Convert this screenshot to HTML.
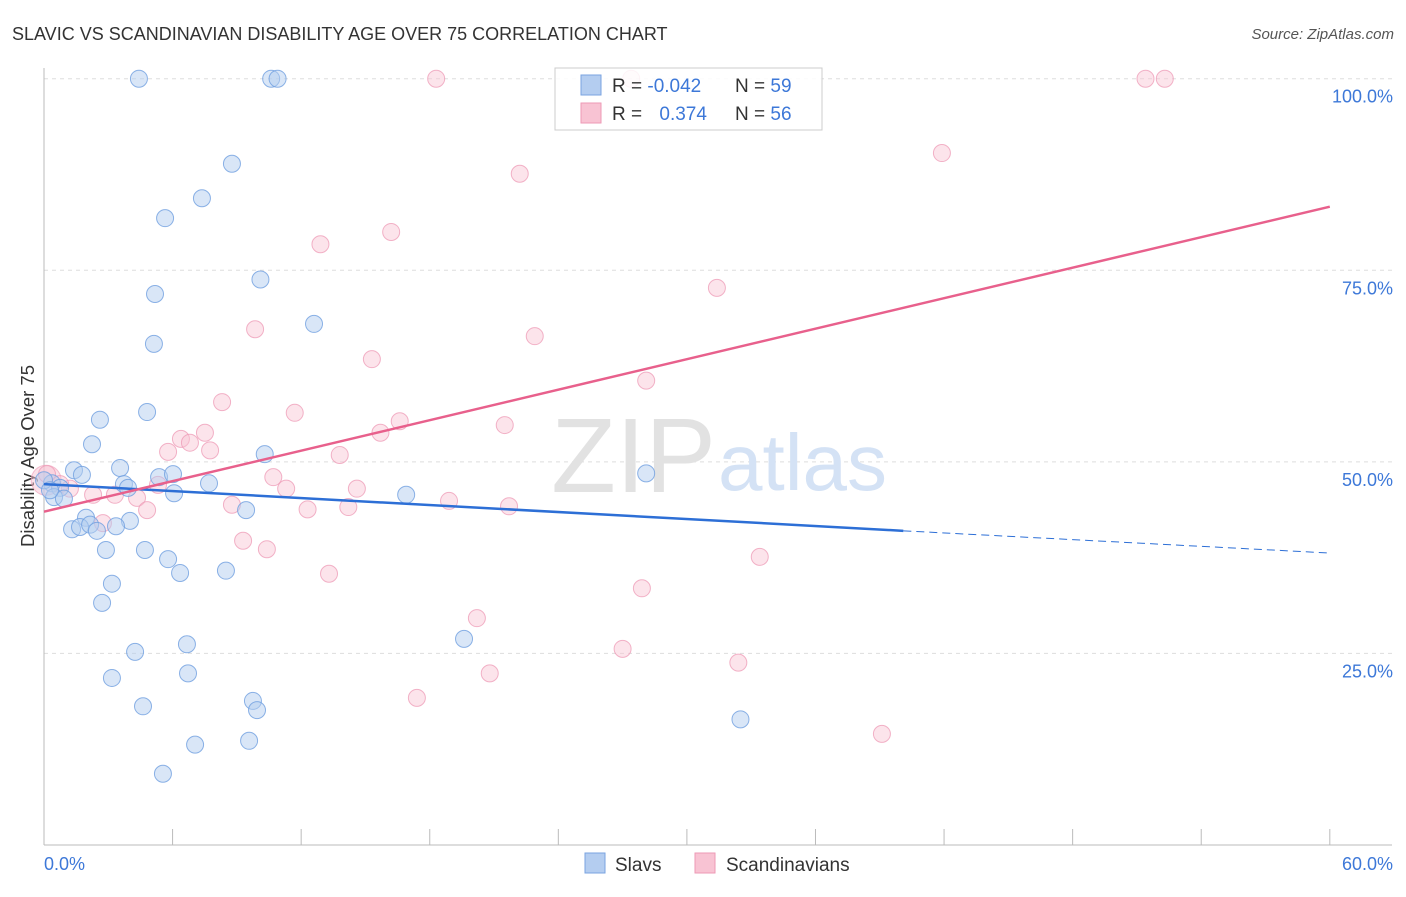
<!DOCTYPE html>
<html><head><meta charset="utf-8"><style>
body{margin:0;background:#fff;font-family:"Liberation Sans",sans-serif;}
svg text{font-family:"Liberation Sans",sans-serif;}
</style></head><body>
<svg id="c" width="1406" height="892" xmlns="http://www.w3.org/2000/svg">
<text x="12" y="40" font-size="18" fill="#333">SLAVIC VS SCANDINAVIAN DISABILITY AGE OVER 75 CORRELATION CHART</text>
<text x="1394" y="39" font-size="15" fill="#555" font-style="italic" text-anchor="end">Source: ZipAtlas.com</text>
<text transform="translate(34,456) rotate(-90)" font-size="18.5" fill="#333" text-anchor="middle">Disability Age Over 75</text>
<g id="grid"></g>
<text x="716" y="492" font-size="106" fill="#e2e2e2" text-anchor="end" font-family="Liberation Serif">ZIP</text>
<text x="718" y="490" font-size="80" fill="#d4e2f5">atlas</text>
<g id="pts"></g>
<g id="lines"></g>
<g>
<rect x="555" y="68" width="267" height="62" fill="#fff" fill-opacity="0.85" stroke="#ccc"/>
<rect x="581" y="75" width="20" height="20" fill="#b4cdf0" stroke="#7aa3e0"/>
<rect x="581" y="103" width="20" height="20" fill="#f8c3d3" stroke="#ee9ab6"/>
<text x="612" y="92" font-size="19" fill="#333">R = <tspan fill="#3d78d8">-0.042</tspan></text>
<text x="735" y="92" font-size="19" fill="#333">N = <tspan fill="#3d78d8">59</tspan></text>
<text x="612" y="120" font-size="19" fill="#333">R = <tspan fill="#3d78d8" dx="12">0.374</tspan></text>
<text x="735" y="120" font-size="19" fill="#333">N = <tspan fill="#3d78d8">56</tspan></text>
</g>
<g>
<rect x="585" y="853" width="20" height="20" fill="#b4cdf0" stroke="#7aa3e0"/>
<text x="615" y="871" font-size="19" fill="#333">Slavs</text>
<rect x="695" y="853" width="20" height="20" fill="#f8c3d3" stroke="#ee9ab6"/>
<text x="726" y="871" font-size="19" fill="#333">Scandinavians</text>
</g>
</svg>
<script>
const yTicks=[25,50,75,100];
const yTickLabels=["25.0%","50.0%","75.0%","100.0%"];
const xTickLabels=["0.0%","60.0%"];
const slavX=[4.43,10.6,10.9,8.77,7.37,5.65,10.1,5.18,12.6,5.13,2.61,4.81,2.24,10.3,3.55,1.40,1.77,5.37,6.02,3.73,7.70,3.92,0.37,0.75,6.07,0.47,0.93,16.9,28.1,9.43,4.01,1.96,1.31,1.68,2.15,2.47,3.36,2.89,4.71,5.79,6.35,8.49,3.17,2.71,6.67,4.25,19.6,6.72,3.17,4.62,9.75,9.94,32.5,7.05,9.57,5.55,0,0.28];
const slavY=[100,100,100,88.9,84.4,81.8,73.8,71.9,68.0,65.4,55.5,56.5,52.3,51.0,49.2,48.9,48.3,48.0,48.4,47.1,47.2,46.6,47.2,46.6,45.9,45.4,45.2,45.7,48.5,43.7,42.3,42.7,41.2,41.5,41.8,41.0,41.6,38.5,38.5,37.3,35.5,35.8,34.1,31.6,26.2,25.2,26.9,22.4,21.8,18.1,18.8,17.6,16.4,13.1,13.6,9.3,47.6,46.3];
const scX=[18.3,51.4,52.3,27.4,41.9,22.2,12.9,16.2,31.4,9.85,22.9,15.3,28.1,8.31,11.7,16.6,21.5,15.7,6.39,7.51,6.81,5.79,7.75,13.8,10.7,11.3,14.6,5.32,4.34,2.29,1.21,3.31,8.77,4.81,12.3,14.2,18.9,21.7,2.75,9.29,10.4,13.3,33.4,27.9,20.2,27.0,32.4,20.8,17.4,39.1,0.14,0.75];
const scY=[100,100,100,100,90.3,87.6,78.4,80.0,72.7,67.3,66.4,63.4,60.6,57.8,56.4,55.3,54.8,53.8,53.0,53.8,52.5,51.3,51.5,50.9,48.0,46.5,46.5,47.0,45.3,45.7,46.5,45.7,44.4,43.7,43.8,44.1,44.9,44.2,42.0,39.7,38.6,35.4,37.6,33.5,29.6,25.6,23.8,22.4,19.2,14.5,48.4,47.1];
const slavTrend=[47.1,41.0,38.1]; const slavTrendX=[0,40.1,60];
const scTrend=[43.5,83.3]; const scTrendX=[0,60];
const X=v=>44+v*21.43, Y=v=>845-v*7.663;
const NS="http://www.w3.org/2000/svg";
function mk(t,a,p){const e=document.createElementNS(NS,t);for(const k in a)e.setAttribute(k,a[k]);p.appendChild(e);return e;}
const g=document.getElementById('grid');
yTicks.forEach((t,i)=>{
 const l=mk('line',{x1:44,x2:1392,y1:Y(t),y2:Y(t),stroke:'#ddd','stroke-dasharray':'4,4'},g);
 
 
 const tx=mk('text',{x:1393,y:Y(t)+24,'font-size':18,fill:'#3d78d8','text-anchor':'end'},g);tx.textContent=yTickLabels[i];
 
 
});
const ax=mk('line',{x1:44,x2:1392,y1:845,y2:845,stroke:'#bbb'},g);


const ay=mk('line',{x1:44,x2:44,y1:68,y2:845,stroke:'#bbb'},g);


for(let i=0;i<=10;i++){const t=mk('line',{x1:X(i*6),x2:X(i*6),y1:829,y2:845,stroke:'#bbb'},g);
 
 }
const x0=mk('text',{x:44,y:870,'font-size':18,fill:'#3d78d8'},g);x0.textContent=xTickLabels[0];


const x1=mk('text',{x:1393,y:870,'font-size':18,fill:'#3d78d8','text-anchor':'end'},g);x1.textContent=xTickLabels[1];


const p=document.getElementById('pts');
const big=mk('circle',{cx:X(0.1),cy:Y(47.6),r:15,fill:'#f8c3d3','fill-opacity':0.5,stroke:'#ee9ab6','stroke-opacity':0.6},p);


scX.forEach((v,i)=>{const c=mk('circle',{cx:X(v),cy:Y(scY[i]),r:8.5,fill:'#f8c3d3','fill-opacity':0.45,stroke:'#ee9ab6','stroke-opacity':0.75},p);
 
 });
slavX.forEach((v,i)=>{const c=mk('circle',{cx:X(v),cy:Y(slavY[i]),r:8.5,fill:'#b4cdf0','fill-opacity':0.5,stroke:'#6f9fe0','stroke-opacity':0.8},p);
 
 });
const L=document.getElementById('lines');
const b1=mk('line',{x1:X(slavTrendX[0]),y1:Y(slavTrend[0]),x2:X(slavTrendX[1]),y2:Y(slavTrend[1]),stroke:'#2d6fd6','stroke-width':2.5},L);


const b2=mk('line',{x1:X(slavTrendX[1]),y1:Y(slavTrend[1]),x2:X(slavTrendX[2]),y2:Y(slavTrend[2]),stroke:'#2d6fd6','stroke-width':1,'stroke-dasharray':'8,5'},L);


const s1=mk('line',{x1:X(scTrendX[0]),y1:Y(scTrend[0]),x2:X(scTrendX[1]),y2:Y(scTrend[1]),stroke:'#e8608c','stroke-width':2.5},L);


</script>
</body></html>
